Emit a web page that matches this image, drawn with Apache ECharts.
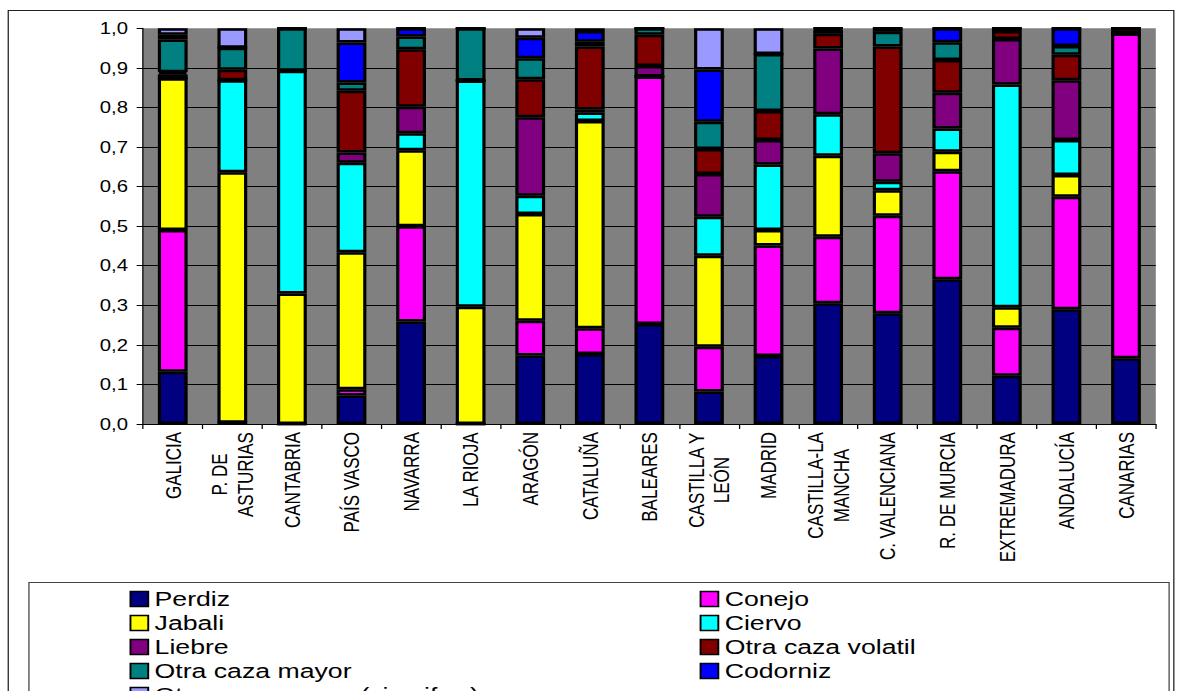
<!DOCTYPE html>
<html>
<head>
<meta charset="utf-8">
<title>Distribución de capturas por comunidad</title>
<script src="https://cdn.jsdelivr.net/npm/echarts@6/dist/echarts.min.js"></script>
<style>
  html, body { margin: 0; padding: 0; background: #fff; overflow: hidden; }
  /* the chart is laid out on a narrower canvas and widened horizontally */
  #chart { width: 927px; height: 691px; transform: scaleX(1.26969); transform-origin: 0 0; }
</style>
</head>
<body>
<div id="chart"></div>
<script>
// Regions (x axis)
const categories = ['GALICIA', 'P. DE\nASTURIAS', 'CANTABRIA', 'PAÍS VASCO', 'NAVARRA', 'LA RIOJA',
  'ARAGÓN', 'CATALUÑA', 'BALEARES', 'CASTILLA Y\nLEÓN', 'MADRID', 'CASTILLA-LA\nMANCHA',
  'C. VALENCIANA', 'R. DE MURCIA', 'EXTREMADURA', 'ANDALUCÍA', 'CANARIAS'];

// Share of each game type per region (stack order bottom to top)
const perdiz        = [0.132, 0.003, 0,     0.072, 0.259, 0,     0.173, 0.177, 0.253, 0.082, 0.172, 0.305, 0.280, 0.366, 0.122, 0.290, 0.166];
const conejo        = [0.358, 0,     0,     0.016, 0.241, 0,     0.088, 0.065, 0.625, 0.113, 0.279, 0.168, 0.246, 0.273, 0.121, 0.284, 0.821];
const jabali        = [0.384, 0.633, 0.330, 0.346, 0.192, 0.296, 0.270, 0.524, 0,     0.230, 0.039, 0.205, 0.065, 0.049, 0.052, 0.055, 0];
const ciervo        = [0,     0.233, 0.563, 0.226, 0.043, 0.572, 0.046, 0.021, 0,     0.099, 0.166, 0.105, 0.021, 0.059, 0.563, 0.089, 0];
const liebre        = [0.010, 0,     0,     0.026, 0.067, 0,     0.198, 0.008, 0.027, 0.108, 0.062, 0.166, 0.072, 0.090, 0.115, 0.151, 0];
const otraVolatil   = [0.005, 0.026, 0,     0.156, 0.145, 0,     0.096, 0.159, 0.079, 0.063, 0.073, 0.037, 0.270, 0.083, 0.020, 0.064, 0.013];
const otraMayor     = [0.083, 0.056, 0.107, 0.021, 0.032, 0.132, 0.053, 0.012, 0.016, 0.069, 0.144, 0.010, 0.037, 0.045, 0.007, 0.022, 0];
const codorniz      = [0.012, 0,     0,     0.101, 0.021, 0,     0.052, 0.027, 0,     0.132, 0,     0.004, 0.009, 0.035, 0,     0.045, 0];
const otraMenor     = [0.016, 0.049, 0,     0.036, 0,     0,     0.024, 0.007, 0,     0.104, 0.065, 0,     0,     0,     0,     0,     0];

const seriesNames = ['Perdiz', 'Conejo', 'Jabali', 'Ciervo', 'Liebre', 'Otra caza volatil',
  'Otra caza mayor', 'Codorniz', 'Otra caza menor (sin cifrar)'];
const seriesData = [perdiz, conejo, jabali, ciervo, liebre, otraVolatil, otraMayor, codorniz, otraMenor];
const seriesColors = ['#000080', '#FF00FF', '#FFFF00', '#00FFFF', '#800080', '#800000', '#008080', '#0000FF', '#9999FF'];

const FONT = '"Liberation Sans", Arial, sans-serif';

const chart = echarts.init(document.getElementById('chart'), null, { renderer: 'svg' });

const legendCommon = {
  orient: 'vertical',
  top: 588.5,
  height: 160,
  padding: 0,
  itemWidth: 14,
  itemHeight: 15,
  itemGap: 3,
  icon: 'rect',
  selectedMode: false,
  itemStyle: { borderColor: '#000', borderWidth: 1.5 },
  textStyle: { fontFamily: FONT, fontSize: 21, lineHeight: 21, color: '#000' }
};

chart.setOption({
  animation: false,
  backgroundColor: '#fff',
  grid: { left: 112.6, right: 16.7, top: 28.3, bottom: 267, show: true, backgroundColor: '#808080', borderWidth: 0, containLabel: false },
  xAxis: {
    type: 'category',
    data: categories,
    axisLine: { show: true, lineStyle: { color: '#000', width: 1 } },
    axisTick: { show: true, length: 5, lineStyle: { color: '#000', width: 1 } },
    splitLine: { show: false },
    axisLabel: {
      interval: 0,
      rotate: 90,
      margin: 8,
      color: '#000',
      fontFamily: FONT,
      fontSize: 17,
      lineHeight: 20,
      formatter: v => v.split('\n').map(s => '{c|' + s + '}').join('\n'),
      rich: { c: { align: 'center', fontFamily: FONT, fontSize: 17, lineHeight: 20, color: '#000' } }
    }
  },
  yAxis: {
    type: 'value',
    min: 0,
    max: 1,
    interval: 0.1,
    axisLine: { show: true, lineStyle: { color: '#000', width: 1 } },
    axisTick: { show: true, length: 5, lineStyle: { color: '#000', width: 1 } },
    splitLine: { show: true, showMaxLine: false, lineStyle: { color: '#000', width: 1 } },
    axisLabel: {
      margin: 11.8,
      color: '#000',
      fontFamily: FONT,
      fontSize: 16,
      formatter: v => v.toFixed(1).replace('.', ',')
    }
  },
  legend: [
    Object.assign({}, legendCommon, { left: 102, data: [seriesNames[0], seriesNames[2], seriesNames[4], seriesNames[6], seriesNames[8]] }),
    Object.assign({}, legendCommon, { left: 551, data: [seriesNames[1], seriesNames[3], seriesNames[5], seriesNames[7]] })
  ],
  graphic: [
    { type: 'rect', z: -10, shape: { x: 6.5, y: 10.5, width: 918, height: 720 }, style: { fill: 'none', stroke: '#222', lineWidth: 1 } },
    { type: 'rect', z: -10, shape: { x: 22.8, y: 582.5, width: 898, height: 200 }, style: { fill: 'none', stroke: '#444', lineWidth: 1 } }
  ],
  series: seriesNames.map((name, i) => ({
    name: name,
    type: 'bar',
    stack: 'total',
    barWidth: '50%',
    data: seriesData[i],
    itemStyle: { color: seriesColors[i], borderColor: '#000', borderWidth: 2.5 },
    emphasis: { disabled: true }
  }))
});
</script>
</body>
</html>
